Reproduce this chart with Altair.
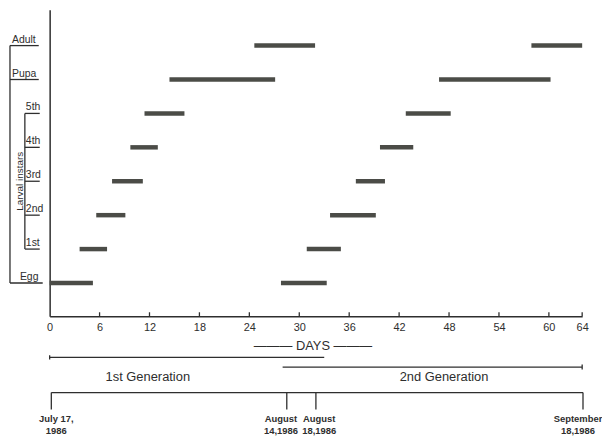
import altair as alt
import pandas as pd

# ---------------- data ----------------
stages = ["Egg", "1st", "2nd", "3rd", "4th", "5th", "Pupa", "Adult"]
gen1_start = [0.0, 3.6, 5.6, 7.5, 9.7, 11.4, 14.4, 24.6]
gen1_end = [5.2, 6.9, 9.1, 11.2, 13.0, 16.2, 27.1, 31.9]
gen2_start = [27.8, 30.9, 33.7, 36.8, 39.7, 42.8, 46.8, 57.9]
gen2_end = [33.3, 35.0, 39.2, 40.3, 43.7, 48.2, 60.2, 64.0]
instars = ["1st", "2nd", "3rd", "4th", "5th"]

day_ticks = [0, 6, 12, 18, 24, 30, 36, 42, 48, 54, 60, 64]

generation_names = ["1st Generation", "2nd Generation"]
generation_start = [0.0, 28.0]
generation_end = [33.0, 64.0]
generation_label_day = [11.8, 47.4]

date_tick_days = [0.2, 28.5, 32.0, 64.1]
date_labels = ["July 17,\n1986", "August\n14,1986", "August\n18,1986", "September\n18,1986"]
date_label_days = [0.8, 27.8, 32.4, 63.5]

# ---------------- layout constants ----------------
W, H = 537, 309
PX = 34.2                      # pixels per stage level
LO = -0.98
HI = LO + H / PX


def below(px):
    """level for a position px pixels below the x axis line"""
    return LO - px / PX


def left(px):
    """day value for a position px pixels left of the y axis"""
    return -px * 64 / W


INK = "#2e2e2e"
BAR = "#4b4c47"
FONT = "Liberation Sans"
NARROW = "Liberation Sans Narrow, Liberation Sans, sans-serif"

xs = alt.Scale(domain=[0, 64], nice=False, zero=False)
ys = alt.Scale(domain=[LO, HI], nice=False, zero=False)

# ---------------- tables ----------------
bars = pd.DataFrame(
    [dict(stage=s, level=i, start=a, end=b, gen="1st")
     for i, (s, a, b) in enumerate(zip(stages, gen1_start, gen1_end))]
    + [dict(stage=s, level=i, start=a, end=b, gen="2nd")
       for i, (s, a, b) in enumerate(zip(stages, gen2_start, gen2_end))]
)

lab_rows = []
for i, s in enumerate(stages):
    if s in instars:
        lx, u0, u1 = left(24), left(25), left(10)
    elif s == "Egg":
        lx, u0, u1 = left(30), left(40), left(7)
    else:
        lx, u0, u1 = left(38), left(40), left(11)
    lab_rows.append(dict(stage=s, level=i, lx=lx, u0=u0, u1=u1))
labs = pd.DataFrame(lab_rows)

brackets = pd.DataFrame([
    dict(x=left(40), y=0, y2=len(stages) - 1),
    dict(x=left(25), y=stages.index("1st"), y2=stages.index("5th")),
])
larval = pd.DataFrame([dict(x=left(30), y=(stages.index("1st") + stages.index("5th")) / 2,
                            t="Larval instars")])

ticks = pd.DataFrame(dict(d=[t for t in day_ticks if t > 0]))
ticks["y"] = LO
ticks["y2"] = LO + 4 / PX

gens = pd.DataFrame(dict(name=generation_names, a=generation_start,
                         b=generation_end, c=generation_label_day))
gens["y"] = [below(41.5), below(51.3)]
gens["ty"] = below(61)
gen_ends = pd.DataFrame(dict(x=[generation_start[0], generation_end[1]],
                             y=[below(41.5) + 2.2 / PX, below(51.3) + 2.5 / PX],
                             y2=[below(41.5) - 2.2 / PX, below(51.3) - 2.5 / PX]))

dates = pd.DataFrame(dict(d=date_tick_days, lab=date_labels, ld=date_label_days))
dates["y"] = below(77)
dates["y2"] = below(94)
dates["ty"] = below(99)
span = pd.DataFrame(dict(a=[min(date_tick_days)], b=[max(date_tick_days)], y=[below(77)]))

# ---------------- axes ----------------
xaxis = alt.Axis(values=day_ticks, ticks=False, grid=False, labelPadding=5,
                 labelFont=NARROW, labelFontSize=11, labelColor=INK, labelFlush=False,
                 domainColor=INK, domainWidth=1.5,
                 title="———  DAYS  ———", titleFont=FONT, titleFontSize=13,
                 titleFontWeight="normal", titleColor=INK, titlePadding=8, titleX=265)
yaxis = alt.Axis(labels=False, ticks=False, grid=False, title="",
                 domainColor=INK, domainWidth=1.5)


def X(f):
    return alt.X(f, scale=xs, axis=xaxis)


def Y(f):
    return alt.Y(f, scale=ys, axis=yaxis)


# ---------------- layers ----------------
bar_layer = alt.Chart(bars).mark_rule(strokeWidth=4.5, color=BAR).encode(
    x=X("start:Q"), x2="end:Q", y=Y("level:Q"))

tick_layer = alt.Chart(ticks).mark_rule(strokeWidth=1.3, color=INK).encode(
    x=X("d:Q"), y=Y("y:Q"), y2="y2:Q")

label_text = alt.Chart(labs).mark_text(align="left", baseline="bottom", dy=-1,
                                       font=FONT, fontSize=10.5, color=INK).encode(
    x=X("lx:Q"), y=Y("level:Q"), text="stage:N")
label_line = alt.Chart(labs).mark_rule(strokeWidth=1.3, color=INK).encode(
    x=X("u0:Q"), x2="u1:Q", y=Y("level:Q"))
bracket_line = alt.Chart(brackets).mark_rule(strokeWidth=1.3, color=INK).encode(
    x=X("x:Q"), y=Y("y:Q"), y2="y2:Q")
larval_text = alt.Chart(larval).mark_text(angle=270, align="center", baseline="middle",
                                          font=FONT, fontSize=10, color=INK).encode(
    x=X("x:Q"), y=Y("y:Q"), text="t:N")

gen_line = alt.Chart(gens).mark_rule(strokeWidth=1.3, color=INK).encode(
    x=X("a:Q"), x2="b:Q", y=Y("y:Q"))
gen_end = alt.Chart(gen_ends).mark_rule(strokeWidth=1.3, color=INK).encode(
    x=X("x:Q"), y=Y("y:Q"), y2="y2:Q")
gen_text = alt.Chart(gens).mark_text(align="center", baseline="middle", font=FONT,
                                     fontSize=13, color=INK).encode(
    x=X("c:Q"), y=Y("ty:Q"), text="name:N")

span_line = alt.Chart(span).mark_rule(strokeWidth=1.3, color=INK).encode(
    x=X("a:Q"), x2="b:Q", y=Y("y:Q"))
date_tick = alt.Chart(dates).mark_rule(strokeWidth=1.3, color=INK).encode(
    x=X("d:Q"), y=Y("y:Q"), y2="y2:Q")
date_text = alt.Chart(dates).mark_text(align="center", baseline="top", lineBreak="\n",
                                       lineHeight=12, font=NARROW, fontSize=9.5,
                                       fontWeight="bold", color=INK).encode(
    x=X("ld:Q"), y=Y("ty:Q"), text="lab:N")

chart = alt.layer(
    bar_layer, tick_layer, label_text, label_line, bracket_line, larval_text,
    gen_line, gen_end, gen_text, span_line, date_tick, date_text,
).properties(
    width=W, height=H,
    autosize=alt.AutoSizeParams(type="none"),
    padding={"left": 42, "top": 0, "right": 20, "bottom": 125},
    background="white",
).configure_view(stroke=None)

chart.save("out.html", embed_options={"renderer": "svg", "actions": False})
